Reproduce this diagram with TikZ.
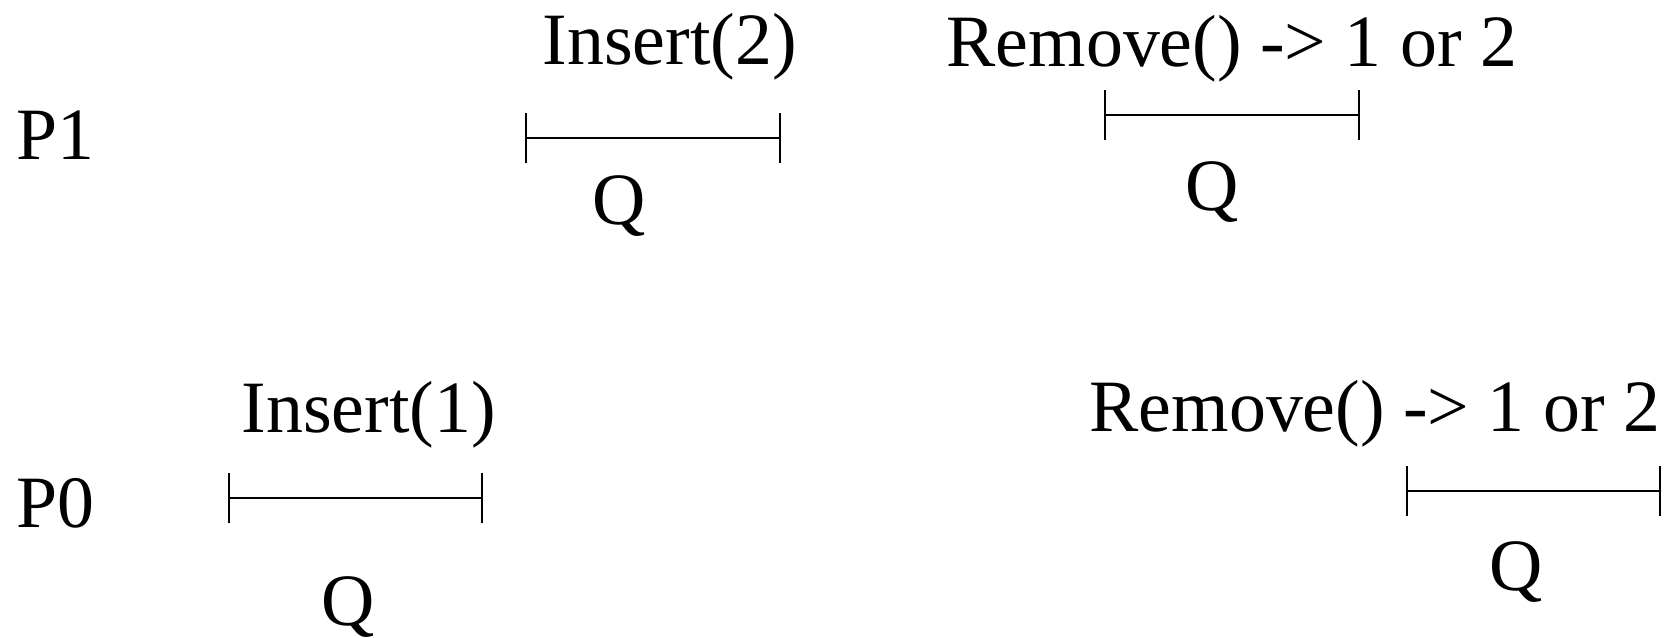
\documentclass[tikz,border=0pt]{standalone}
\usepackage{fontspec}
\setmainfont{Liberation Serif}
\usetikzlibrary{arrows.meta}
\begin{document}
\begin{tikzpicture}[every node/.style={inner sep=0pt,font=\fontsize{21}{25}\selectfont},
  op/.style={anchor=base west}, q/.style={anchor=base},
  seg/.style={{Bar[width=0.5cm]}-{Bar[width=0.5cm]},line width=0.6pt}]
\useasboundingbox (0,0) rectangle (16.77,-6.37);
\node [op] (P1) at (0.16,-1.59){P1};
\node [op] (P0) at (0.16,-5.27){P0};
\node [op] (I2) at (5.42,-0.64){Insert(2)};
\node [op] (R1) at (9.46,-0.66){Remove() -> 1 or 2};
\node [op] (I1) at (2.41,-4.32){Insert(1)};
\node [op] (R0) at (10.89,-4.31){Remove() -> 1 or 2};
\node [q] (Q1) at (6.19,-2.24){Q};
\node [q] (Q2) at (12.12,-2.10){Q};
\node [q] (Q3) at (3.48,-6.25){Q};
\node [q] (Q4) at (15.16,-5.90){Q};
\coordinate (A1) at (5.25,-1.38);
\coordinate (B1) at (7.81,-1.38);
\coordinate (A2) at (11.04,-1.15);
\coordinate (B2) at (13.60,-1.15);
\coordinate (A3) at (2.28,-4.98);
\coordinate (B3) at (4.83,-4.98);
\coordinate (A4) at (14.06,-4.91);
\coordinate (B4) at (16.61,-4.91);
\draw[seg] (A1) -- (B1);
\draw[seg] (A2) -- (B2);
\draw[seg] (A3) -- (B3);
\draw[seg] (A4) -- (B4);
\end{tikzpicture}
\end{document}
